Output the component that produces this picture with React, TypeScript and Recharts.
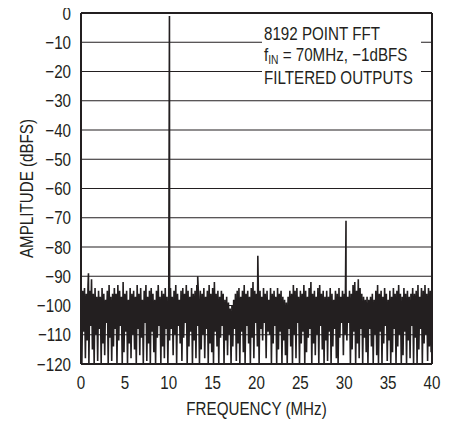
import React from 'react';
import { LineChart, Line, XAxis, YAxis, ReferenceLine, Label } from 'recharts';

const FONT = "'Liberation Sans', Arial, Helvetica, sans-serif";
const INK = '#231f20';
const FS = 18.5;
const NARROW = 0.82;

const xTicks = [0, 5, 10, 15, 20, 25, 30, 35, 40];
const yTicks = [0, -10, -20, -30, -40, -50, -60, -70, -80, -90, -100, -110, -120];
const gridLevels = [-10, -20, -30, -40, -50, -60, -70, -80, -90, -100, -110];

// noise floor, read column by column (one column every 0.2 MHz): upper and lower envelope in dBFS
const binStep = 0.2;
const noiseTop = [
  -97, -95, -94, -96, -93, -95, -91, -96, -94, -97,
  -95, -97, -94, -96, -98, -95, -93, -97, -96, -94,
  -96, -93, -95, -97, -92, -96, -95, -98, -94, -96,
  -95, -97, -93, -96, -94, -98, -95, -93, -97, -95,
  -94, -96, -98, -95, -93, -97, -95, -96, -94, -97,
  -96, -94, -97, -95, -93, -96, -98, -95, -94, -96,
  -93, -95, -97, -94, -96, -95, -93, -97, -95, -96,
  -94, -97, -95, -93, -96, -94, -92, -96, -95, -97,
  -95, -96, -98, -97, -99, -101, -100, -98, -96, -95,
  -94, -97, -95, -93, -96, -95, -97, -94, -92, -95,
  -96, -93, -95, -97, -94, -96, -95, -98, -94, -96,
  -95, -97, -94, -96, -95, -97, -98, -99, -97, -95,
  -96, -93, -95, -94, -97, -95, -96, -93, -95, -97,
  -94, -92, -96, -95, -97, -94, -93, -96, -95, -97,
  -95, -97, -94, -96, -98, -95, -96, -94, -97, -95,
  -96, -94, -97, -95, -96, -93, -92, -95, -91, -94,
  -96, -97, -98, -97, -98, -97, -96, -98, -95, -93,
  -96, -95, -97, -94, -96, -98, -95, -97, -94, -96,
  -95, -93, -96, -97, -94, -96, -95, -97, -96, -94,
  -96, -95, -93, -97, -94, -95, -93, -96, -94, -95,
  -96,
];
const noiseBottom = [
  -120, -109, -118, -112, -120, -107, -115, -120, -110, -119,
  -108, -120, -113, -117, -106, -120, -111, -119, -114, -108,
  -120, -112, -107, -120, -116, -109, -120, -113, -118, -110,
  -115, -120, -108, -117, -111, -120, -106, -119, -113, -120,
  -109, -116, -120, -111, -107, -120, -114, -118, -108, -120,
  -112, -108, -117, -110, -120, -107, -113, -119, -111, -106,
  -120, -114, -109, -120, -112, -118, -107, -120, -115, -110,
  -118, -108, -120, -113, -116, -120, -109, -114, -120, -111,
  -107, -120, -112, -117, -110, -120, -114, -108, -119, -113,
  -120, -109, -116, -120, -107, -113, -120, -111, -118, -106,
  -114, -120, -108, -112, -106, -118, -109, -110, -120, -113,
  -107, -120, -115, -109, -120, -112, -117, -120, -108, -114,
  -120, -110, -118, -106, -120, -113, -109, -120, -116, -111,
  -108, -120, -113, -117, -110, -120, -107, -115, -120, -112,
  -119, -109, -120, -114, -108, -118, -120, -111, -106, -117,
  -110, -112, -106, -120, -115, -109, -120, -113, -118, -108,
  -120, -111, -116, -120, -108, -114, -120, -110, -117, -120,
  -109, -120, -113, -107, -119, -112, -120, -116, -108, -120,
  -114, -110, -120, -117, -109, -120, -112, -118, -107, -120,
  -111, -120, -115, -108, -120, -113, -110, -119, -114, -116,
];

// discrete spurs (MHz, dBFS)
const spurFreqs = [0.85, 10.08, 13.3, 20.15, 30.2, 31.6];
const spurLevels = [-89, -1, -90, -83, -71, -91];

type Pt = { f: number; v: number };
const spectrum: Pt[] = (() => {
  const pts: Pt[] = [];
  noiseTop.forEach((v, i) => {
    pts.push({ f: i * binStep, v });
    if (i < noiseBottom.length) pts.push({ f: i * binStep + binStep / 2, v: noiseBottom[i] });
  });
  spurFreqs.forEach((f, k) => pts.push({ f, v: spurLevels[k] }));
  pts.sort((a, b) => a.f - b.f);
  return pts;
})();

const fmtY = (v: number) => (v < 0 ? '\u2212' + Math.abs(v) : String(v));

// condensed text: Helvetica-Narrow look made from Liberation Sans squeezed horizontally
function NarrowText({
  x,
  y,
  anchor = 'start',
  rotate = 0,
  children,
}: {
  x: number;
  y: number;
  anchor?: 'start' | 'middle' | 'end';
  rotate?: number;
  children: React.ReactNode;
}) {
  const t = `translate(${x},${y})${rotate ? ` rotate(${rotate})` : ''} scale(${NARROW},1)`;
  return (
    <text transform={t} textAnchor={anchor} fill={INK} fontFamily={FONT} fontSize={FS}>
      {children}
    </text>
  );
}

const XTick = (props: any) => {
  const { x, y, payload } = props;
  return <NarrowText x={x} y={y + FS * 0.72} anchor="middle">{String(payload.value)}</NarrowText>;
};

const YTick = (props: any) => {
  const { x, y, payload } = props;
  return <NarrowText x={x} y={y + FS * 0.36} anchor="end">{fmtY(payload.value)}</NarrowText>;
};

const XTitle = (props: any) => {
  const vb = props.viewBox;
  return <NarrowText x={vb.x + vb.width / 2} y={vb.y + vb.height - 6} anchor="middle">FREQUENCY (MHz)</NarrowText>;
};

const YTitle = (props: any) => {
  const vb = props.viewBox;
  return (
    <NarrowText x={vb.x + 26 + FS * 0.36} y={vb.y + vb.height / 2} anchor="middle" rotate={-90}>
      AMPLITUDE (dBFS)
    </NarrowText>
  );
};

export default function App() {
  return (
    <div style={{ position: 'relative', width: 453, height: 421, marginLeft: -8, marginTop: -8, background: '#fff' }}>
      <LineChart width={453} height={421} data={spectrum} margin={{ top: 13, right: 21, bottom: 0, left: 0 }}>
        <XAxis
          type="number"
          dataKey="f"
          domain={[0, 40]}
          ticks={xTicks}
          interval={0}
          tickLine={false}
          tickSize={0}
          tickMargin={12}
          height={57}
          allowDataOverflow
          axisLine={{ stroke: INK, strokeWidth: 2 }}
          tick={<XTick />}
        >
          <Label position="insideBottom" content={<XTitle />} />
        </XAxis>
        <YAxis
          type="number"
          domain={[-120, 0]}
          ticks={yTicks}
          interval={0}
          width={81}
          tickLine={false}
          tickSize={0}
          tickMargin={10}
          allowDataOverflow
          axisLine={{ stroke: INK, strokeWidth: 2 }}
          tick={<YTick />}
        >
          <Label position="insideLeft" content={<YTitle />} />
        </YAxis>
        <Line
          type="linear"
          dataKey="v"
          stroke={INK}
          strokeWidth={1.6}
          strokeLinejoin="miter"
          dot={false}
          activeDot={false}
          isAnimationActive={false}
        />
        {gridLevels.map((y) => (
          <ReferenceLine key={y} y={y} stroke={INK} strokeWidth={1.2} />
        ))}
        <ReferenceLine y={0} stroke={INK} strokeWidth={2} />
        <ReferenceLine x={40} stroke={INK} strokeWidth={2} />
      </LineChart>
      <svg
        width={453}
        height={421}
        style={{ position: 'absolute', left: 0, top: 0, pointerEvents: 'none' }}
      >
        <rect x={262} y={24} width={159} height={64} fill="#fff" />
        <NarrowText x={264} y={40}>8192 POINT FFT</NarrowText>
        <NarrowText x={264} y={61}>
          f<tspan fontSize={12.5} dy={3}>IN</tspan>
          <tspan dy={-3}> = 70MHz, {'\u2212'}1dBFS</tspan>
        </NarrowText>
        <NarrowText x={264} y={83.5}>FILTERED OUTPUTS</NarrowText>
      </svg>
    </div>
  );
}
